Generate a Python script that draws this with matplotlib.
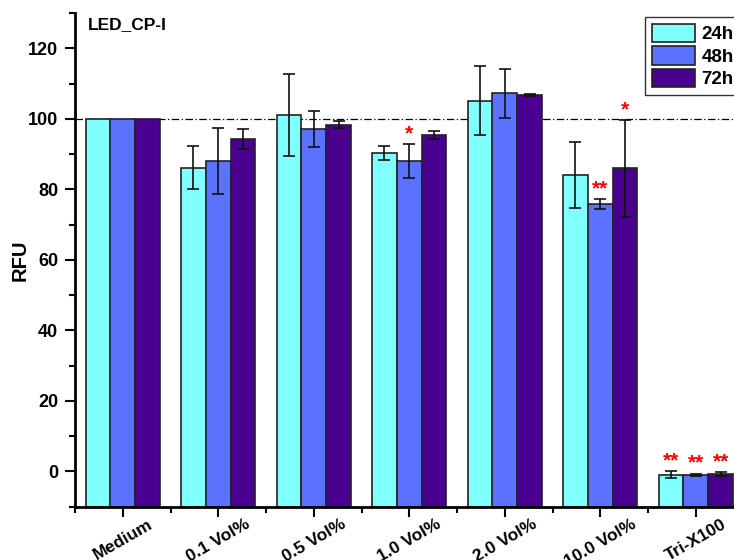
import numpy as np
import matplotlib.pyplot as plt
import matplotlib.transforms as mtransforms

# ── data ───────────────────────────────────────────────────
categories = ["Medium", "0.1 Vol%", "0.5 Vol%", "1.0 Vol%",
              "2.0 Vol%", "10.0 Vol%", "Tri-X100"]
series = ["24h", "48h", "72h"]

rfu_24 = [100.0, 86.2, 101.2, 90.4, 105.1, 84.1, -0.9]
rfu_48 = [100.0, 88.0, 97.1, 88.0, 107.2, 75.8, -1.0]
rfu_72 = [100.0, 94.2, 98.4, 95.4, 106.8, 86.0, -0.7]

err_24 = [0.0, 6.1, 11.6, 2.0, 9.8, 9.3, 1.0]
err_48 = [0.0, 9.4, 5.2, 4.8, 7.0, 1.5, 0.4]
err_72 = [0.0, 2.8, 0.9, 1.1, 0.3, 13.7, 0.6]

# significance marks: one list per series, "" = none
sig_24 = ["", "", "", "", "", "", "**"]
sig_48 = ["", "", "", "*", "", "**", "**"]
sig_72 = ["", "", "", "", "", "*", "**"]

colors = ["#80FFFF", "#5A72FF", "#4A0090"]
values = [rfu_24, rfu_48, rfu_72]
errors = [err_24, err_48, err_72]
sigs = [sig_24, sig_48, sig_72]

plt.rcParams['font.family'] = ['Liberation Sans', 'DejaVu Sans']
plt.rcParams['font.weight'] = 'bold'

fig = plt.figure(figsize=(7.34, 5.6), dpi=100)
ax = fig.add_axes([75 / 734, 53.3 / 560, 668.5 / 734, 493.6 / 560])

ymin, ymax = -10, 130
x = np.arange(len(categories))
width = 0.26

for i, (vals, errs, sg, c, lab) in enumerate(zip(values, errors, sigs, colors, series)):
    pos = x + (i - 1) * width
    vals = np.array(vals)
    ax.bar(pos, vals - ymin, width, bottom=ymin, color=c,
           edgecolor="#222222", linewidth=1.2, label=lab, zorder=2)
    errs = np.array(errs)
    mask = errs > 0
    ax.errorbar(pos[mask], vals[mask], yerr=errs[mask], fmt="none",
                ecolor="#111111", elinewidth=1.2, capsize=4, capthick=1.2,
                zorder=3)
    for p, v, e, s in zip(pos, vals, errs, sg):
        if s:
            ax.text(p, v + e + 0.2, s, color="red", ha="center", va="bottom",
                    fontsize=15, fontweight="bold", zorder=4)

ax.axhline(100, color="black", linestyle=(0, (6, 2, 1, 2)), linewidth=0.9,
           zorder=1)

ax.set_xlim(-0.5, len(categories) - 0.5)
ax.set_ylim(ymin, ymax)

ax.set_yticks(np.arange(0, 121, 20))
ax.set_yticks(np.arange(-10, 131, 10), minor=True)
ax.set_xticks(x)
ax.set_xticks(np.arange(-0.5, len(categories), 1.0), minor=True)

ax.set_xticklabels(categories, rotation=30, ha="center", va="top",
                   fontsize=12.5, fontweight="bold")
offset = mtransforms.ScaledTranslation(-6 / 100, 0, fig.dpi_scale_trans)
for lbl in ax.get_xticklabels():
    lbl.set_transform(lbl.get_transform() + offset)

ax.tick_params(axis="y", which="major", direction="out", length=7, width=1.5,
               labelsize=13, pad=5)
ax.tick_params(axis="y", which="minor", direction="out", length=4, width=1.5)
ax.tick_params(axis="x", which="major", direction="out", length=7, width=1.5,
               pad=0)
ax.tick_params(axis="x", which="minor", direction="out", length=4, width=1.5)
for lbl in ax.get_yticklabels():
    lbl.set_fontweight("bold")

for side in ["top", "right"]:
    ax.spines[side].set_visible(False)
for side in ["left", "bottom"]:
    ax.spines[side].set_linewidth(2)

ax.set_ylabel("RFU", fontsize=14.5, fontweight="bold", labelpad=-1)

ax.text(88 / 734, 1 - 25 / 560, "LED_CP-I", transform=fig.transFigure,
        fontsize=12.5, fontweight="bold", va="center", ha="left")

leg = fig.legend(loc="upper left", bbox_to_anchor=(645 / 734, 1 - 17 / 560),
                 fontsize=13.5, frameon=True, fancybox=False, handlelength=2.3,
                 handleheight=1.15, labelspacing=0.15, borderpad=0.35,
                 handletextpad=0.35, borderaxespad=0)
leg.get_frame().set_edgecolor("black")
leg.get_frame().set_linewidth(1.0)
for t in leg.get_texts():
    t.set_fontweight("bold")

fig.savefig("out.png", dpi=100)
